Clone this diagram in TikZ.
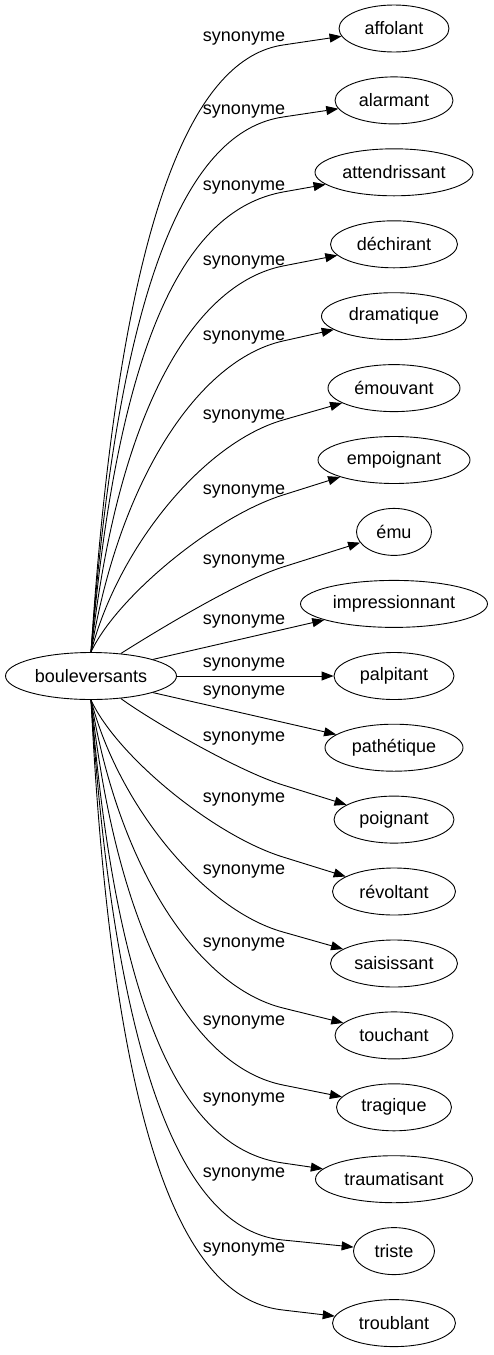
\documentclass[tikz,border=0pt]{standalone}
\usepackage{fontspec}
\setmainfont{Liberation Sans}
\usetikzlibrary{arrows.meta,shapes.geometric}
\begin{document}
\begin{tikzpicture}[x=1pt,y=-1pt,
  word/.style={ellipse, draw, line width=0.9pt, minimum height=47pt, inner sep=0pt, font=\fontsize{18}{21}\selectfont},
  lbl/.style={font=\fontsize{18}{21}\selectfont, inner sep=0pt},
  edge/.style={draw, line width=0.9pt, -{Triangle[length=12pt,width=9pt]}}]
\useasboundingbox (0,0) rectangle (493,1355);
\node[word, minimum width=171pt] (src) at (91,676) {bouleversants};
\node[word, minimum width=110pt] (affolant) at (394,28.5) {affolant};
\node[word, minimum width=118pt] (alarmant) at (394,100.4) {alarmant};
\node[word, minimum width=158pt] (attendrissant) at (394,172.3) {attendrissant};
\node[word, minimum width=127pt] (dechirant) at (394,244.3) {déchirant};
\node[word, minimum width=145pt] (dramatique) at (394,316.2) {dramatique};
\node[word, minimum width=132pt] (emouvant) at (394,388.1) {émouvant};
\node[word, minimum width=152pt] (empoignant) at (394,460) {empoignant};
\node[word, minimum width=75pt] (emu) at (394,531.9) {ému};
\node[word, minimum width=187pt] (impressionnant) at (394,603.9) {impressionnant};
\node[word, minimum width=120pt] (palpitant) at (394,676) {palpitant};
\node[word, minimum width=138pt] (pathetique) at (394,747.7) {pathétique};
\node[word, minimum width=120pt] (poignant) at (394,819.6) {poignant};
\node[word, minimum width=123pt] (revoltant) at (394,891.5) {révoltant};
\node[word, minimum width=127pt] (saisissant) at (394,963.5) {saisissant};
\node[word, minimum width=118pt] (touchant) at (394,1035.4) {touchant};
\node[word, minimum width=115pt] (tragique) at (394,1107.3) {tragique};
\node[word, minimum width=157pt] (traumatisant) at (394,1179.2) {traumatisant};
\node[word, minimum width=81pt] (triste) at (394,1251.1) {triste};
\node[word, minimum width=123pt] (troublant) at (394,1323.1) {troublant};

\node[lbl] (l1) at (244,39) {synonyme};
\node[lbl] (l2) at (244,112) {synonyme};
\node[lbl] (l3) at (244,188) {synonyme};
\node[lbl] (l4) at (244,263) {synonyme};
\node[lbl] (l5) at (244,338) {synonyme};
\node[lbl] (l6) at (244,417) {synonyme};
\node[lbl] (l7) at (244,492) {synonyme};
\node[lbl] (l8) at (244,562) {synonyme};
\node[lbl] (l9) at (244,622) {synonyme};
\node[lbl] (l10) at (244,665) {synonyme};
\node[lbl] (l11) at (244,693) {synonyme};
\node[lbl] (l12) at (244,739) {synonyme};
\node[lbl] (l13) at (244,800) {synonyme};
\node[lbl] (l14) at (244,872) {synonyme};
\node[lbl] (l15) at (244,945) {synonyme};
\node[lbl] (l16) at (244,1023) {synonyme};
\node[lbl] (l17) at (244,1100) {synonyme};
\node[lbl] (l18) at (244,1175) {synonyme};
\node[lbl] (l19) at (244,1250) {synonyme};

\draw[edge] (src.north) .. controls (121,197) and (198,57.7) .. (283,45) -- (affolant);
\draw[edge] (src.north) .. controls (121,251) and (198,129.7) .. (283,117) -- (alarmant);
\draw[edge] (src.north) .. controls (121,307) and (198,207.8) .. (283,192) -- (attendrissant);
\draw[edge] (src.north) .. controls (119,401) and (198,283) .. (283,266) -- (dechirant);
\draw[edge] (src.north) .. controls (119,481) and (198,360) .. (283,341) -- (dramatique);
\draw[edge] (src.north) .. controls (118,548) and (203,443) .. (283,420) -- (emouvant);
\draw[edge] (src.north) .. controls (116,598) and (213,517) .. (283,495) -- (empoignant);
\draw[edge] (src.37) .. controls (150,635) and (238,581) .. (283,567) -- (emu);
\draw[edge] (src.15) -- (impressionnant);
\draw[edge] (src) -- (palpitant);
\draw[edge] (src.-15) -- (pathetique);
\draw[edge] (src.-37) .. controls (150,720) and (238,771) .. (283,785) -- (poignant);
\draw[edge] (src.south) .. controls (116,755) and (213,835.3) .. (283,857) -- (revoltant);
\draw[edge] (src.south) .. controls (118,804) and (203,909.6) .. (283,932) -- (saisissant);
\draw[edge] (src.south) .. controls (119,869) and (198,987) .. (283,1008) -- (touchant);
\draw[edge] (src.south) .. controls (119,950) and (198,1068) .. (283,1085) -- (tragique);
\draw[edge] (src.south) .. controls (119,1047) and (196,1150.7) .. (283,1163) -- (traumatisant);
\draw[edge] (src.south) .. controls (118,1105) and (195,1231.5) .. (283,1240) -- (triste);
\draw[edge] (src.south) .. controls (114,1160) and (190,1300) .. (283,1310) -- (troublant);
\end{tikzpicture}
\end{document}
